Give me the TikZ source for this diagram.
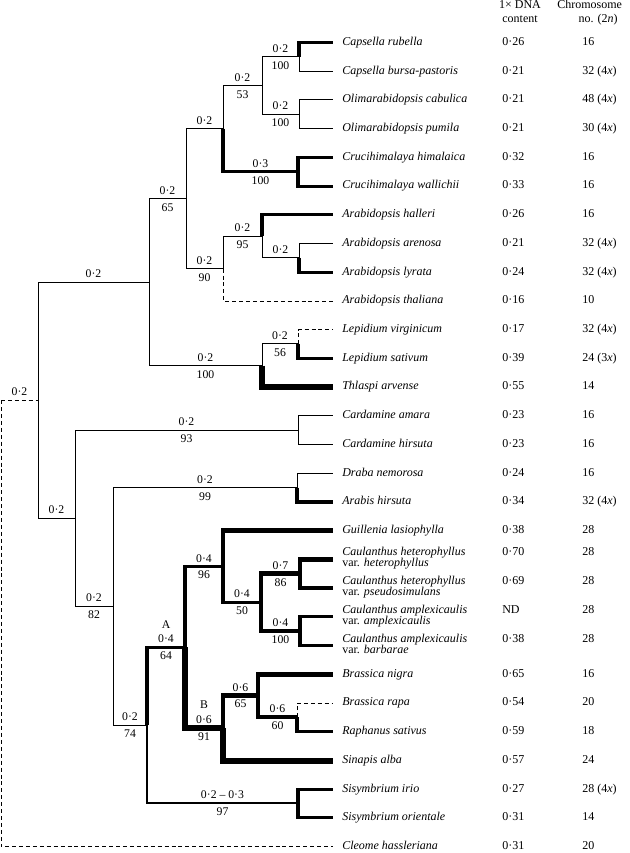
\documentclass[tikz,border=0pt]{standalone}
\usepackage{fontspec}
\setmainfont{Liberation Serif}
\usetikzlibrary{calc}

\begin{document}
\begin{tikzpicture}[
    x=0.75pt, y=-0.75pt,
    br/.style={line width=0.7pt},
    brb/.style={line width=1.5pt},
    brc/.style={line width=2.3pt},
    brd/.style={line width=3.4pt},
    bre/.style={line width=4.5pt},
    brdash/.style={line width=0.7pt, dash pattern=on 3pt off 2.2pt},
    taxon/.style={anchor=base west, inner sep=0pt, font=\fontsize{9}{10}\selectfont\itshape},
    val/.style={anchor=base west, inner sep=0pt, font=\fontsize{9}{10}\selectfont},
    head/.style={anchor=base, inner sep=0pt, font=\fontsize{9}{10}\selectfont},
    blab/.style={inner sep=0pt, align=center, font=\fontsize{8.8}{11}\selectfont}
]
\useasboundingbox (0,0) rectangle (630,853);

% column heads
\node[head] (hdna) at (520,8) {1× DNA};
\node[head] (hcont) at (520,22) {content};
\node[head, anchor=base west] (hchr) at (557,8) {Chromosome};
\node[head] (hno) at (598,22) {no. (2\textit{n})};

% taxa, one row each
\foreach \i/\nm/\dna/\chr in {
    0/Capsella rubella/0·26/16,
    1/Capsella bursa-pastoris/0·21/32 (4\textit{x}),
    2/Olimarabidopsis cabulica/0·21/48 (4\textit{x}),
    3/Olimarabidopsis pumila/0·21/30 (4\textit{x}),
    4/Crucihimalaya himalaica/0·32/16,
    5/Crucihimalaya wallichii/0·33/16,
    6/Arabidopsis halleri/0·26/16,
    7/Arabidopsis arenosa/0·21/32 (4\textit{x}),
    8/Arabidopsis lyrata/0·24/32 (4\textit{x}),
    9/Arabidopsis thaliana/0·16/10,
    10/Lepidium virginicum/0·17/32 (4\textit{x}),
    11/Lepidium sativum/0·39/24 (3\textit{x}),
    12/Thlaspi arvense/0·55/14,
    13/Cardamine amara/0·23/16,
    14/Cardamine hirsuta/0·23/16,
    15/Draba nemorosa/0·24/16,
    16/Arabis hirsuta/0·34/32 (4\textit{x}),
    17/Guillenia lasiophylla/0·38/28,
    22/Brassica nigra/0·65/16,
    23/Brassica rapa/0·54/20,
    24/Raphanus sativus/0·59/18,
    25/Sinapis alba/0·57/24,
    26/Sisymbrium irio/0·27/28 (4\textit{x}),
    27/Sisymbrium orientale/0·31/14,
    28/Cleome hassleriana/0·31/20}{
    \coordinate (l\i) at (333,42.5+28.72*\i);
    \node[taxon] (t\i) at (342,45.3+28.72*\i) {\nm};
    \node[val] (d\i) at (502,45.3+28.72*\i) {\dna};
    \node[val] (c\i) at (582,45.3+28.72*\i) {\chr};
}
% Caulanthus rows have two lines
\foreach \i/\epi/\vr/\dna in {
    18/heterophyllus/heterophyllus/0·70,
    19/heterophyllus/pseudosimulans/0·69,
    20/amplexicaulis/amplexicaulis/ND,
    21/amplexicaulis/barbarae/0·38}{
    \coordinate (l\i) at (333,42.5+28.72*\i);
    \node[taxon] (t\i) at (342,39+28.72*\i) {Caulanthus \epi};
    \node[taxon] (v\i) at (342,50+28.72*\i) {\upshape var. \itshape\vr};
    \node[val] (d\i) at (502,39+28.72*\i) {\dna};
    \node[val] (c\i) at (582,39+28.72*\i) {28};
}

% internal nodes
\coordinate (capsella) at (299,56.9);
\coordinate (olima) at (299,114.3);
\coordinate (capol) at (262,85.6);
\coordinate (cruci) at (298,171.7);
\coordinate (capcru) at (223,128.7);
\coordinate (arlyr) at (299,257.9);
\coordinate (arhal) at (262,236.3);
\coordinate (arabid) at (223,268.6);
\coordinate (upA) at (186,198.6);
\coordinate (lepid) at (298,343.9);
\coordinate (lepthl) at (262,365.5);
\coordinate (upper) at (149,282);
\coordinate (cardam) at (298,430);
\coordinate (drarab) at (297,487.5);
\coordinate (caulhet) at (300,573.6);
\coordinate (caulamp) at (300,631);
\coordinate (caul) at (261,602.3);
\coordinate (guicaul) at (223,566.4);
\coordinate (brarap) at (297,717);
\coordinate (brnig) at (258,695.4);
\coordinate (cladeB) at (223,727.8);
\coordinate (cladeA) at (185,647.1);
\coordinate (sisym) at (298,803.1);
\coordinate (asis) at (147,725.1);
\coordinate (lower) at (113,606.3);
\coordinate (cardlow) at (75,518.2);
\coordinate (crown) at (38,400.1);
\coordinate (root) at (1,400.1);

% branches
\foreach \p/\c/\s in {
    capsella/l0/brc, capsella/l1/br, olima/l2/br, olima/l3/br,
    capol/capsella/br, capol/olima/br, cruci/l4/brc, cruci/l5/brc,
    capcru/capol/br, capcru/cruci/brc,
    arlyr/l7/br, arlyr/l8/brc, arhal/l6/brc, arhal/arlyr/br,
    arabid/arhal/br, arabid/l9/brdash, upA/capcru/br, upA/arabid/br,
    lepid/l10/brdash, lepid/l11/brc, lepthl/lepid/br, lepthl/l12/bre,
    upper/upA/br, upper/lepthl/br,
    cardam/l13/br, cardam/l14/br, drarab/l15/br, drarab/l16/brc,
    caulhet/l18/brd, caulhet/l19/brd, caulamp/l20/brc, caulamp/l21/brc,
    caul/caulhet/brd, caul/caulamp/brc, guicaul/l17/brd, guicaul/caul/brc,
    brarap/l23/brdash, brarap/l24/brc, brnig/l22/brd, brnig/brarap/brc,
    cladeB/brnig/brd, cladeB/l25/bre, cladeA/guicaul/brc, cladeA/cladeB/bre,
    sisym/l26/brc, sisym/l27/brc, asis/cladeA/brc, asis/sisym/brb,
    lower/drarab/br, lower/asis/br, cardlow/cardam/br, cardlow/lower/br,
    crown/upper/br, crown/cardlow/br, root/crown/brdash, root/l28/brdash}
    \draw[\s] (\p) |- (\c);

% branch lengths above, support below
\foreach \p/\c/\up/\dn in {
    capol/capsella/0·2/100, capol/olima/0·2/100, capcru/capol/0·2/53,
    capcru/cruci/0·3/100, upA/capcru/0·2/, arabid/arhal/0·2/95,
    arhal/arlyr/0·2/, upA/arabid/0·2/90, upper/upA/0·2/65,
    lepthl/lepid/0·2/56, upper/lepthl/0·2/100, crown/upper/0·2/,
    cardlow/cardam/0·2/93, lower/drarab/0·2/99, cardlow/lower/0·2/82,
    crown/cardlow/0·2/, root/crown/0·2/, lower/asis/0·2/74,
    asis/cladeA/A\\0·4/64, cladeA/guicaul/0·4/96, guicaul/caul/0·4/50,
    caul/caulhet/0·7/86, caul/caulamp/0·4/100, cladeA/cladeB/B\\0·6/91,
    cladeB/brnig/0·6/65, brnig/brarap/0·6/60, asis/sisym/0·2 – 0·3/97}{
    \node[blab, anchor=south] (u\c) at ($(\p|-\c)!0.5!(\c)+(0,-4)$) {\up};
    \node[blab, anchor=north] (b\c) at ($(\p|-\c)!0.5!(\c)+(0,4.5)$) {\dn};
}
\end{tikzpicture}
\end{document}
